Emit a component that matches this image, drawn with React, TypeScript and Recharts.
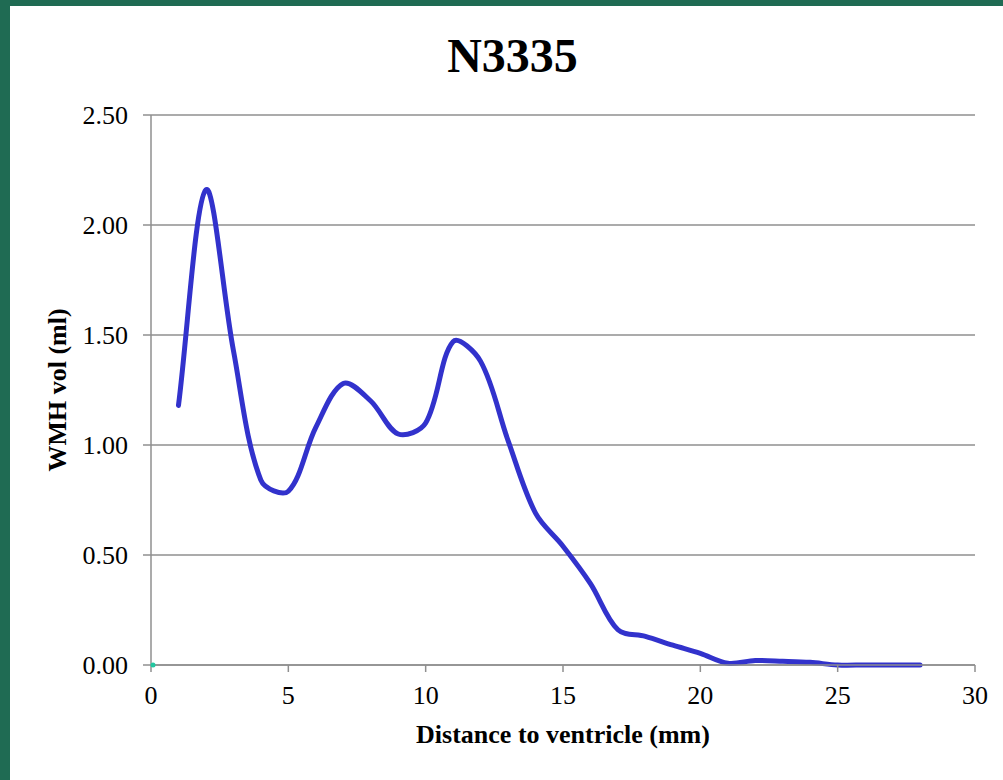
import {
  ComposedChart,
  Line,
  Scatter,
  CartesianGrid,
  XAxis,
  YAxis,
} from "recharts";

const CHART_TITLE = "N3335";
const X_TITLE = "Distance to ventricle (mm)";
const Y_TITLE = "WMH vol (ml)";

const distanceMm = [
  1, 2, 3, 4, 5, 6, 7, 8, 9, 10, 11, 12, 13, 14, 15, 16, 17, 18, 19, 20, 21, 22,
  23, 24, 25, 26, 27, 28,
];
const wmhVolume = [
  1.18, 2.16, 1.43, 0.84, 0.79, 1.08, 1.28, 1.2, 1.05, 1.1, 1.47, 1.38, 1.02,
  0.69, 0.54, 0.37, 0.16, 0.13, 0.09, 0.053, 0.008, 0.02, 0.017, 0.012, 0, 0, 0,
  0,
];
// stray marker sitting on the origin in the source chart
const originMarker = [{ x: 0, y: 0 }];

const xTicks = [0, 5, 10, 15, 20, 25, 30];
const yTicks = [0, 0.5, 1, 1.5, 2, 2.5];

const SERIF = "'Liberation Serif', 'Times New Roman', serif";
const GRID = "#8f8f8f";
const BORDER = "#1f6b53";

const chartData = distanceMm.map((d, i) => ({ x: d, y: wmhVolume[i] }));

/** Excel-style smoothed line: bezier through every point, handles scaled by segment length */
function excelSmooth(context: any) {
  let pts: [number, number][] = [];
  const dist = (a: [number, number], b: [number, number]) =>
    Math.hypot(b[0] - a[0], b[1] - a[1]) || 1e-6;
  return {
    areaStart() {},
    areaEnd() {},
    lineStart() {
      pts = [];
    },
    point(x: number, y: number) {
      pts.push([+x, +y]);
    },
    lineEnd() {
      if (!pts.length) return;
      context.moveTo(pts[0][0], pts[0][1]);
      for (let i = 0; i < pts.length - 1; i++) {
        const p0 = pts[i - 1] ?? pts[i];
        const p1 = pts[i];
        const p2 = pts[i + 1];
        const p3 = pts[i + 2] ?? p2;
        // outgoing handle at p1
        const a0 = i > 0 ? dist(p0, p1) : 0;
        const a1 = dist(p1, p2);
        const s1 = (a1 / (a0 + a1)) / 3;
        // incoming handle at p2
        const b1 = a1;
        const b2 = i + 2 < pts.length ? dist(p2, p3) : 0;
        const s2 = (b1 / (b1 + b2)) / 3;
        context.bezierCurveTo(
          p1[0] + (p2[0] - p0[0]) * s1,
          p1[1] + (p2[1] - p0[1]) * s1,
          p2[0] - (p3[0] - p1[0]) * s2,
          p2[1] - (p3[1] - p1[1]) * s2,
          p2[0],
          p2[1],
        );
      }
    },
  };
}

const tickStyle = { fill: "#000", fontSize: 26, fontFamily: SERIF };

export default function App() {
  return (
    <div
      style={{
        position: "absolute",
        left: 0,
        top: 0,
        width: 1003,
        height: 780,
        background: "#fff",
        overflow: "hidden",
      }}
    >
      <div
        style={{
          position: "absolute",
          left: 0,
          right: 0,
          top: 32,
          textAlign: "center",
          paddingLeft: 22,
          fontFamily: SERIF,
          fontWeight: "bold",
          fontSize: 48,
          lineHeight: "48px",
          color: "#000",
        }}
      >
        {CHART_TITLE}
      </div>
      <ComposedChart
        width={1003}
        height={780}
        data={chartData}
        margin={{ top: 115, right: 28, left: 10, bottom: 35 }}
        style={{ position: "absolute", left: 0, top: 0 }}
      >
        <CartesianGrid
          stroke={GRID}
          strokeWidth={1.5}
          vertical={false}
          horizontalValues={yTicks}
        />
        <XAxis
          dataKey="x"
          type="number"
          domain={[0, 30]}
          ticks={xTicks}
          interval={0}
          height={80}
          tick={tickStyle}
          tickSize={7}
          tickMargin={14}
          axisLine={{ stroke: GRID, strokeWidth: 1.5 }}
          tickLine={{ stroke: GRID, strokeWidth: 1.5 }}
          label={{
            value: X_TITLE,
            position: "insideBottom",
            offset: 2,
            style: {
              fill: "#000",
              fontSize: 26,
              fontWeight: "bold",
              fontFamily: SERIF,
            },
          }}
        />
        <YAxis
          type="number"
          domain={[0, 2.5]}
          ticks={yTicks}
          interval={0}
          width={141}
          tick={tickStyle}
          tickSize={8}
          tickMargin={15}
          tickFormatter={(v: number) => v.toFixed(2)}
          axisLine={{ stroke: GRID, strokeWidth: 1.5 }}
          tickLine={{ stroke: GRID, strokeWidth: 1.5 }}
          label={{
            value: Y_TITLE,
            angle: -90,
            position: "insideLeft",
            offset: 47,
            style: {
              textAnchor: "middle",
              fill: "#000",
              fontSize: 26,
              fontWeight: "bold",
              fontFamily: SERIF,
            },
          }}
        />
        <Scatter
          data={originMarker}
          dataKey="y"
          fill="#22c7a0"
          shape={(p: any) => <circle cx={p.cx + 2} cy={p.cy} r={2.5} fill="#22c7a0" />}
          isAnimationActive={false}
        />
        <Line
          dataKey="y"
          type={excelSmooth as any}
          stroke="#3232cc"
          strokeWidth={5}
          strokeLinecap="round"
          strokeLinejoin="round"
          dot={false}
          activeDot={false}
          isAnimationActive={false}
        />
      </ComposedChart>
      <div
        style={{
          position: "absolute",
          left: 0,
          top: 0,
          width: 1003,
          height: 6,
          background: BORDER,
        }}
      />
      <div
        style={{
          position: "absolute",
          left: 0,
          top: 0,
          width: 10,
          height: 780,
          background: BORDER,
        }}
      />
    </div>
  );
}
